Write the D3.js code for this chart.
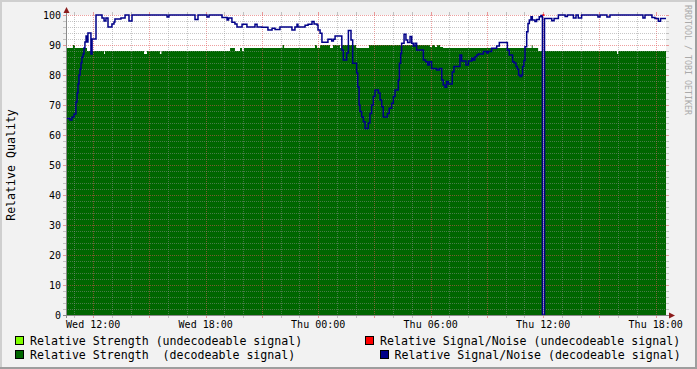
<!DOCTYPE html>
<html lang="en">
<head>
<meta charset="UTF-8" />
<title>Relative Quality</title>
<script src="https://d3js.org/d3.v7.min.js"></script>
<style>
  body { margin: 0; background: #f2f2f2; }
  svg { display: block; font-family: 'DejaVu Sans Mono', monospace; }
</style>
</head>
<body>
<div id="chart"></div>
<script>
// time is counted in hours from Wed 00:00
const timeDomain = [10.55, 42.55];
const tickHours = [12, 18, 24, 30, 36, 42];
const tickLabels = ["Wed 12:00", "Wed 18:00", "Thu 00:00", "Thu 06:00", "Thu 12:00", "Thu 18:00"];
const yTicks = [0, 10, 20, 30, 40, 50, 60, 70, 80, 90, 100];

// Relative Strength (decodeable signal), step values
const strengthHours = [10.55, 10.92, 11.03, 11.67, 12.58, 12.63, 14.71, 14.87, 15.56, 15.64,
  19.30, 19.56, 19.83, 19.94, 20.04, 22.10, 22.18, 23.83, 23.94, 24.10, 24.63, 24.79,
  25.16, 25.27, 26.02, 26.71, 29.96, 30.07, 30.23, 30.34, 30.50, 30.66, 35.39, 35.44,
  35.73, 35.96, 36.07, 39.94, 40.00, 42.55];
const strengthValues = [89, 90, 89, 88, 87, 88, 87, 88, 87, 88,
  89, 88, 89, 88, 89, 90, 89, 90, 89, 90, 89, 90,
  89, 90, 89, 90, 89.3, 90, 89.3, 90, 89.3, 89, 90, 89,
  88, 0, 88, 87, 88, 88];

// Relative Signal/Noise (decodeable signal), step values
const snrHours = [10.55, 10.76, 10.87, 10.98, 11.08, 11.14, 11.19, 11.24, 11.30, 11.35,
  11.40, 11.46, 11.51, 11.56, 11.62, 11.67, 11.72, 11.88, 11.94, 12.15,
  12.47, 12.58, 12.68, 12.79, 13.00, 13.11, 13.16, 13.48, 13.70, 13.91,
  14.07, 15.94, 16.04, 17.43, 17.59, 18.07, 18.18, 18.87, 19.14, 19.22,
  19.40, 19.56, 19.67, 19.94, 20.20, 20.63, 20.74, 21.00, 21.32, 21.54,
  21.70, 21.96, 22.60, 22.76, 22.87, 22.92, 23.30, 23.46, 23.67, 23.78,
  23.94, 23.99, 24.10, 24.20, 24.52, 24.72, 24.81, 24.90, 25.26, 25.34,
  25.52, 25.61, 25.75, 25.84, 26.05, 26.11, 26.18, 26.23, 26.32, 26.41,
  26.50, 26.67, 26.76, 26.85, 26.94, 27.03, 27.21, 27.30, 27.39, 27.47,
  27.69, 27.79, 27.92, 28.01, 28.10, 28.27, 28.33, 28.40, 28.45, 28.58,
  28.68, 28.77, 28.90, 28.99, 29.07, 29.16, 29.25, 29.61, 29.73, 29.84,
  29.93, 30.05, 30.32, 30.46, 30.59, 30.67, 30.76, 30.85, 30.94, 31.15,
  31.24, 31.56, 31.65, 31.88, 32.01, 32.19, 32.27, 32.36, 32.45, 32.54,
  32.81, 32.99, 33.07, 33.25, 33.52, 33.66, 34.09, 34.19, 34.37, 34.46,
  34.55, 34.62, 34.69, 34.76, 34.85, 34.90, 34.97, 35.03, 35.12, 35.19,
  35.26, 35.35, 35.42, 35.56, 35.65, 35.79, 35.88, 35.96, 36.07, 36.46,
  36.58, 36.81, 37.17, 37.29, 37.61, 37.75, 37.87, 38.05, 38.92, 39.03,
  39.40, 39.56, 41.32, 41.43, 41.80, 41.96, 42.14, 42.26, 42.55];
const snrValues = [65.5, 65, 66, 67, 71, 74, 77, 80, 82, 84,
  86, 87, 89, 91, 93, 91, 94, 87, 92, 100,
  99, 98, 99, 96, 97, 97.7, 98.7, 99, 100, 98,
  100, 99.3, 100, 98.5, 100, 99.3, 100, 99.2, 98.3, 99,
  97.6, 97, 96, 96.9, 96, 96.9, 96, 95.9, 95, 95.6,
  95.2, 96, 95, 96, 96.9, 96, 96.6, 96.9, 97.8, 97,
  96.7, 95, 93.9, 90.9, 91.9, 91.3, 91.9, 93, 88.3, 85,
  87.3, 94.8, 91.7, 83.9, 80.7, 76, 70, 67.8, 66, 64.4,
  62.2, 64, 67.2, 70, 72.8, 75, 74, 71.7, 69.4, 66,
  67.2, 68.9, 70.6, 72.8, 75, 78.3, 83.9, 87.2, 90.6, 93.6,
  91.7, 90.8, 92.8, 90.6, 89.7, 90.6, 88.3, 85, 84.4, 83.3,
  84.4, 82.2, 81.7, 82.2, 78.3, 76.7, 75.9, 77.8, 77, 81,
  82.8, 86.7, 84.7, 83.3, 84.7, 85.6, 85, 86.1, 86.7, 87,
  87.8, 87.3, 87.8, 88.9, 89.7, 90.8, 88.3, 86.7, 84.4, 84,
  82.8, 82, 80, 79.5, 80, 82.8, 84.8, 89.4, 94.4, 97.2,
  98.3, 99.4, 98.3, 97.8, 98.5, 99.4, 99.8, 0, 98.8, 98.1,
  98.8, 100, 99.5, 100, 99, 100, 99, 100, 99.3, 100,
  99.3, 100, 99, 100, 99.2, 98.8, 97.9, 98.8, 98.8];

// Relative Signal/Noise (undecodeable signal)
const snrBadHours = [35.96, 36.07];
const snrBadValues = [100, 100];

const legendLabels = [
  "Relative Strength (undecodeable signal)",
  "Relative Strength  (decodeable signal)",
  "Relative Signal/Noise (undecodeable signal)",
  "Relative Signal/Noise (decodeable signal)"
];
const legendColors = ["#80ff00", "#006600", "#ff0000", "#000088"];

const W = 697, H = 369;
const plot = { left: 66, right: 666, top: 15, bottom: 315 };

const svg = d3.select("#chart").append("svg")
  .attr("width", W).attr("height", H);

// background + shaded frame
svg.append("rect").attr("width", W).attr("height", H).attr("fill", "#f2f2f2");
svg.append("rect").attr("x", 0).attr("y", 0).attr("width", W).attr("height", 2).attr("fill", "#cfcfcf");
svg.append("rect").attr("x", 0).attr("y", 0).attr("width", 2).attr("height", H).attr("fill", "#cfcfcf");
svg.append("rect").attr("x", 0).attr("y", H - 2).attr("width", W).attr("height", 2).attr("fill", "#9e9e9e");
svg.append("rect").attr("x", W - 2).attr("y", 0).attr("width", 2).attr("height", H).attr("fill", "#9e9e9e");

svg.append("rect")
  .attr("x", plot.left).attr("y", plot.top)
  .attr("width", plot.right - plot.left).attr("height", plot.bottom - plot.top)
  .attr("fill", "#ffffff");

const x = d3.scaleLinear().domain(timeDomain).range([plot.left, plot.right]);
const y = d3.scaleLinear().domain([0, 100]).range([plot.bottom, plot.top]);

const strength = strengthHours.map((h, i) => ({ h, v: strengthValues[i] }));
const snr = snrHours.map((h, i) => ({ h, v: snrValues[i] }));
const snrBad = snrBadHours.map((h, i) => ({ h, v: snrBadValues[i] }));

svg.append("defs").append("clipPath").attr("id", "clip")
  .append("rect")
  .attr("x", plot.left).attr("y", plot.top - 2)
  .attr("width", plot.right - plot.left).attr("height", plot.bottom - plot.top + 2);

const area = d3.area()
  .x(d => x(d.h)).y0(y(0)).y1(d => y(d.v))
  .curve(d3.curveStepAfter);

svg.append("path")
  .datum(strength)
  .attr("clip-path", "url(#clip)")
  .attr("fill", "#006600")
  .attr("d", area);

// grid (drawn over the area, like rrdtool)
const minorCol = "rgba(143,143,143,0.5)";
const majorCol = "rgba(222,80,80,0.55)";
const grid = svg.append("g").attr("shape-rendering", "crispEdges");

const hourLines = d3.range(Math.ceil(timeDomain[0]), Math.floor(timeDomain[1]) + 1);
hourLines.forEach(h => {
  const major = h % 3 === 0;
  const px = Math.round(x(h)) + 0.5;
  const col = major ? majorCol : minorCol;
  grid.append("line").attr("x1", px).attr("x2", px)
    .attr("y1", plot.top).attr("y2", plot.bottom)
    .attr("stroke", col).attr("stroke-dasharray", "1,1");
  grid.append("line").attr("x1", px).attr("x2", px)
    .attr("y1", plot.top - 3).attr("y2", plot.top).attr("stroke", col);
  grid.append("line").attr("x1", px).attr("x2", px)
    .attr("y1", plot.bottom).attr("y2", plot.bottom + 3).attr("stroke", col);
});

d3.range(2, 101, 2).forEach(v => {
  const major = v % 10 === 0;
  const py = Math.round(y(v)) + 0.5;
  const col = major ? majorCol : minorCol;
  grid.append("line").attr("x1", plot.left).attr("x2", plot.right)
    .attr("y1", py).attr("y2", py)
    .attr("stroke", col).attr("stroke-dasharray", "1,1");
  grid.append("line").attr("x1", plot.left - 3).attr("x2", plot.left)
    .attr("y1", py).attr("y2", py).attr("stroke", col);
  grid.append("line").attr("x1", plot.right).attr("x2", plot.right + 3)
    .attr("y1", py).attr("y2", py).attr("stroke", col);
});

// lines
const line = d3.line()
  .x(d => x(d.h)).y(d => y(d.v))
  .curve(d3.curveStepAfter);

svg.append("path")
  .datum(snr)
  .attr("clip-path", "url(#clip)")
  .attr("fill", "none")
  .attr("stroke", "#000088")
  .attr("stroke-width", 1.5)
  .attr("d", line);

svg.append("path")
  .datum(snrBad)
  .attr("fill", "none")
  .attr("stroke", "#ff0000")
  .attr("stroke-width", 1.5)
  .attr("d", line);

// axes
const axisCol = "#8a8a8a";
svg.append("line")
  .attr("x1", plot.left + 0.5).attr("x2", plot.left + 0.5)
  .attr("y1", plot.top - 4).attr("y2", plot.bottom + 3)
  .attr("stroke", axisCol).attr("shape-rendering", "crispEdges");
svg.append("line")
  .attr("x1", plot.left - 3).attr("x2", plot.right + 4)
  .attr("y1", plot.bottom + 0.5).attr("y2", plot.bottom + 0.5)
  .attr("stroke", axisCol).attr("shape-rendering", "crispEdges");

const arrowCol = "#8b1c1c";
svg.append("path")
  .attr("d", `M${plot.left - 2.5},${plot.top - 2} L${plot.left + 3.5},${plot.top - 2} L${plot.left + 0.5},${plot.top - 8} Z`)
  .attr("fill", arrowCol);
svg.append("path")
  .attr("d", `M${plot.right + 3},${plot.bottom - 2.5} L${plot.right + 3},${plot.bottom + 3.5} L${plot.right + 9},${plot.bottom + 0.5} Z`)
  .attr("fill", arrowCol);

// tick labels
svg.append("g").selectAll("text")
  .data(yTicks)
  .join("text")
  .attr("x", 61)
  .attr("y", d => y(d))
  .attr("dy", "0.36em")
  .attr("text-anchor", "end")
  .attr("font-size", "10px")
  .attr("fill", "#000")
  .text(d => d);

svg.append("g").selectAll("text")
  .data(tickHours)
  .join("text")
  .attr("x", d => x(d))
  .attr("y", 328)
  .attr("text-anchor", "middle")
  .attr("font-size", "10px")
  .attr("fill", "#000")
  .text((d, i) => tickLabels[i]);

// y title
svg.append("text")
  .attr("transform", "translate(15,165) rotate(-90)")
  .attr("text-anchor", "middle")
  .attr("font-size", "11.6px")
  .attr("fill", "#000")
  .text("Relative Quality");

// watermark
svg.append("text")
  .attr("transform", "translate(685,5) rotate(90)")
  .attr("font-size", "8.3px")
  .attr("fill", "#aaaaaa")
  .text("RRDTOOL / TOBI OETIKER");

// legend
const legendPos = [
  { sx: 15, tx: 30, y: 341 },
  { sx: 15, tx: 30, y: 355 },
  { sx: 365, tx: 380, y: 341 },
  { sx: 379.5, tx: 394.5, y: 355 }
];
const legend = svg.append("g");
legendLabels.forEach((lab, i) => {
  const p = legendPos[i];
  legend.append("rect")
    .attr("x", p.sx + 0.5).attr("y", p.y - 4.5)
    .attr("width", 8).attr("height", 8)
    .attr("fill", legendColors[i])
    .attr("stroke", "#000").attr("stroke-width", 1)
    .attr("shape-rendering", "crispEdges");
  legend.append("text")
    .attr("x", p.tx).attr("y", p.y)
    .attr("dy", "0.36em")
    .attr("font-size", "11.6px")
    .attr("fill", "#000")
    .attr("xml:space", "preserve")
    .style("white-space", "pre")
    .text(lab);
});
</script>
</body>
</html>
